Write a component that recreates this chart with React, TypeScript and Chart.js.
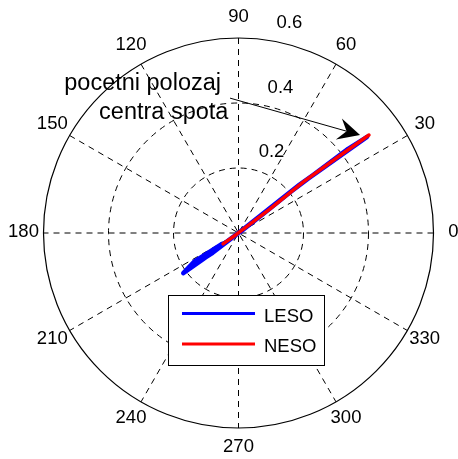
import React, { useEffect, useRef } from "react";
import { Chart, registerables } from "chart.js";

Chart.register(...registerables);

// ---- data (polar: angle in degrees, radius) ----
const LESO_ANGLE = [30, 37.5, 38.3, 37.8, 37.5, 36.8, 38.4, 40, 216.5, 216, 212.8, 213.5, 215.2, 217.5, 220];
const LESO_R = [0.005, 0.091, 0.2, 0.315, 0.425, 0.494, 0.24, 0.006, 0.127, 0.21, 0.161, 0.061, 0.189, 0.1, 0.005];

const NESO_ANGLE = [215, 214, 37.5, 37.3, 38.2, 37.3, 36.9];
const NESO_R = [0.058, 0.008, 0.032, 0.122, 0.254, 0.405, 0.502];

const SERIES_LABELS = ["LESO", "NESO"];
const SERIES_COLORS = ["#0000ff", "#ff0000"];

const ANGLE_TICKS = [0, 30, 60, 90, 120, 150, 180, 210, 240, 270, 300, 330];
const ANGLE_LABELS = ["0", "30", "60", "90", "120", "150", "180", "210", "240", "270", "300", "330"];
const RING_VALUES = [0.2, 0.4, 0.6];
const RING_LABELS = ["0.2", "0.4", "0.6"];
const R_MAX = 0.6;

const ANNOT_LINES = ["pocetni polozaj", "centra spota"];

const W = 458;
const H = 459;
// view window in data units (325 px per unit, centre at 238.5,233)
const PX_PER_UNIT = 325;
const X_MIN = -238.5 / PX_PER_UNIT;
const X_MAX = (W - 238.5) / PX_PER_UNIT;
const Y_MAX = 233 / PX_PER_UNIT;
const Y_MIN = -(H - 233) / PX_PER_UNIT;

const toXY = (angles: number[], radii: number[]) =>
  angles.map((a, i) => ({
    x: radii[i] * Math.cos((a * Math.PI) / 180),
    y: radii[i] * Math.sin((a * Math.PI) / 180),
  }));

const FONT = "'Liberation Sans', Arial, Helvetica, sans-serif";

const polarPlugin = {
  id: "polarGrid",
  beforeDatasetsDraw(chart: any) {
    const { ctx } = chart;
    const xs = chart.scales.x;
    const ys = chart.scales.y;
    const px = (x: number) => xs.getPixelForValue(x);
    const py = (y: number) => ys.getPixelForValue(y);
    const cx = px(0);
    const cy = py(0);
    const R = px(R_MAX) - cx;
    ctx.save();
    ctx.fillStyle = "#ffffff";
    ctx.fillRect(0, 0, chart.width, chart.height);
    ctx.strokeStyle = "#000";
    ctx.lineWidth = 1;
    // dashed rings
    ctx.setLineDash([6, 5]);
    RING_VALUES.forEach((v) => {
      if (v >= R_MAX) return;
      ctx.beginPath();
      ctx.arc(cx, cy, px(v) - cx, 0, Math.PI * 2);
      ctx.stroke();
    });
    // spokes
    for (let a = 0; a < 180; a += 30) {
      const t = (a * Math.PI) / 180;
      ctx.beginPath();
      ctx.moveTo(px(R_MAX * Math.cos(t)), py(R_MAX * Math.sin(t)));
      ctx.lineTo(px(-R_MAX * Math.cos(t)), py(-R_MAX * Math.sin(t)));
      ctx.stroke();
    }
    ctx.setLineDash([]);
    // outer circle
    ctx.lineWidth = 1.2;
    ctx.beginPath();
    ctx.arc(cx, cy, R, 0, Math.PI * 2);
    ctx.stroke();
    // angle labels
    ctx.fillStyle = "#000";
    ctx.font = `18.5px ${FONT}`;
    ctx.textAlign = "center";
    ctx.textBaseline = "middle";
    const rl = R_MAX * (215 / 195);
    ANGLE_TICKS.forEach((a, i) => {
      const t = (a * Math.PI) / 180;
      ctx.fillText(ANGLE_LABELS[i], px(rl * Math.cos(t)), py(rl * Math.sin(t)) - 1.5);
    });
    // radial labels
    ctx.textAlign = "left";
    RING_VALUES.forEach((v, i) => {
      ctx.fillText(RING_LABELS[i], px(0.0345 + 0.1375 * v), py(0.0515 + 0.99 * v));
    });
    ctx.restore();
  },
  afterDatasetsDraw(chart: any) {
    const { ctx } = chart;
    const xs = chart.scales.x;
    const ys = chart.scales.y;
    const px = (x: number) => xs.getPixelForValue(x);
    const py = (y: number) => ys.getPixelForValue(y);
    ctx.save();
    // annotation text
    ctx.fillStyle = "#000";
    ctx.font = `23.5px ${FONT}`;
    ctx.textAlign = "center";
    ctx.textBaseline = "alphabetic";
    ctx.fillText(ANNOT_LINES[0], px(-0.295), py(0.4405));
    ctx.fillText(ANNOT_LINES[1], px(-0.230), py(0.351));
    // arrow
    const x0 = px(-0.026), y0 = py(0.415);
    const x1 = px(0.374), y1 = py(0.3015);
    const L = Math.hypot(x1 - x0, y1 - y0);
    const ux = (x1 - x0) / L, uy = (y1 - y0) / L;
    const nx = -uy, ny = ux;
    ctx.strokeStyle = "#000";
    ctx.lineWidth = 1;
    ctx.beginPath();
    ctx.moveTo(x0, y0);
    ctx.lineTo(x1 - 14 * ux, y1 - 14 * uy);
    ctx.stroke();
    ctx.beginPath();
    ctx.moveTo(x1, y1);
    ctx.lineTo(x1 - 22 * ux - 11 * nx, y1 - 22 * uy - 11 * ny);
    ctx.lineTo(x1 - 14 * ux, y1 - 14 * uy);
    ctx.lineTo(x1 - 22 * ux + 11 * nx, y1 - 22 * uy + 11 * ny);
    ctx.closePath();
    ctx.fill();
    // legend box
    const bx = 168, by = 295, bw = 156, bh = 70;
    ctx.fillStyle = "#fff";
    ctx.fillRect(bx, by, bw, bh);
    ctx.strokeStyle = "#000";
    ctx.lineWidth = 1;
    ctx.strokeRect(bx + 0.5, by + 0.5, bw, bh);
    ctx.font = `18.5px ${FONT}`;
    ctx.textAlign = "left";
    chart.data.datasets.forEach((ds: any, i: number) => {
      const ly = by + 18.5 + i * 30.5;
      ctx.strokeStyle = ds.borderColor;
      ctx.lineWidth = 3;
      ctx.beginPath();
      ctx.moveTo(182, ly);
      ctx.lineTo(255, ly);
      ctx.stroke();
      ctx.fillStyle = "#000";
      ctx.fillText(ds.label, 264, ly + 8);
    });
    ctx.restore();
  },
};

export default function App() {
  const ref = useRef<HTMLCanvasElement | null>(null);
  useEffect(() => {
    if (!ref.current) return;
    const chart = new Chart(ref.current, {
      type: "scatter",
      data: {
        datasets: [
          {
            label: SERIES_LABELS[0],
            data: toXY(LESO_ANGLE, LESO_R),
            borderColor: SERIES_COLORS[0],
            backgroundColor: SERIES_COLORS[0],
            showLine: true,
            pointRadius: 0,
            borderWidth: 4.5,
            borderJoinStyle: "round",
            borderCapStyle: "round",
            order: 2,
          },
          {
            label: SERIES_LABELS[1],
            data: toXY(NESO_ANGLE, NESO_R),
            borderColor: SERIES_COLORS[1],
            backgroundColor: SERIES_COLORS[1],
            showLine: true,
            pointRadius: 0,
            borderWidth: 3.5,
            borderJoinStyle: "round",
            borderCapStyle: "round",
            order: 1,
          },
        ],
      },
      options: {
        responsive: false,
        maintainAspectRatio: false,
        devicePixelRatio: 1,
        animation: false,
        layout: { padding: 0 },
        plugins: { legend: { display: false }, tooltip: { enabled: false } },
        scales: {
          x: { type: "linear", display: false, min: X_MIN, max: X_MAX },
          y: { type: "linear", display: false, min: Y_MIN, max: Y_MAX },
        },
      },
      plugins: [polarPlugin],
    } as any);
    return () => chart.destroy();
  }, []);
  return (
    <div style={{ position: "fixed", left: 0, top: 0, width: W, height: H, background: "#fff" }}>
      <canvas ref={ref} width={W} height={H} style={{ display: "block", width: W, height: H }} />
    </div>
  );
}
